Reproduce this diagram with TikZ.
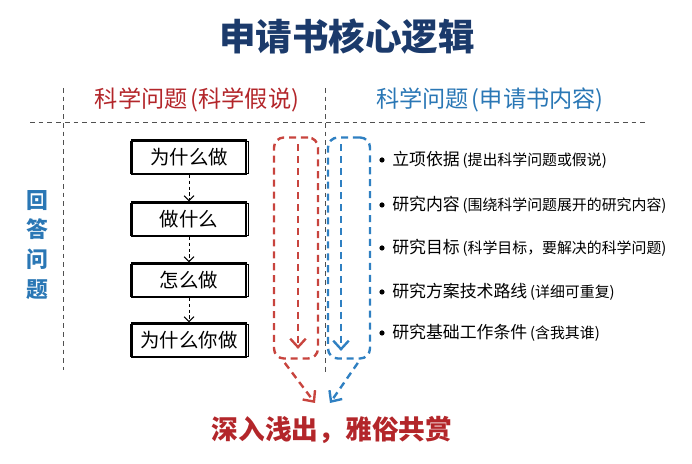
\documentclass[tikz,border=0pt]{standalone}
\usepackage{fontspec}
\setmainfont{Noto Sans CJK SC}
\usetikzlibrary{arrows.meta}
\definecolor{titleblue}{HTML}{1B3A6B}
\definecolor{hypred}{HTML}{B3262A}
\definecolor{appblue}{HTML}{2A77B5}
\definecolor{arrred}{HTML}{C8443E}
\definecolor{arrblue}{HTML}{2F80C2}
\definecolor{guide}{HTML}{505050}
\begin{document}
\begin{tikzpicture}[x=0.025cm,y=-0.025cm,
	guideline/.style={guide, line width=0.7pt, dash pattern=on 3.4pt off 2.8pt},
	qbox/.style={draw, line width=1pt, minimum width=2.85cm, minimum height=0.85cm,
		font=\fontsize{13.8}{16}\selectfont},
	lane/.style={line width=1.7pt, dash pattern=on 5pt off 3.5pt, rounded corners=0.25cm,
		minimum height=5.525cm},
	flow/.style={line width=1.7pt, dash pattern=on 5pt off 3.5pt,
		-{Straight Barb[length=6pt,width=11pt,line width=1.7pt]}},
	item/.style={anchor=west, inner sep=0pt}
]
\useasboundingbox (0,0) rectangle (692,464);

\node(title) at(347,37) {\fontsize{26}{30}\selectfont\bfseries\color{titleblue}申请书核心逻辑};
\node(hyp) at(197,100) {\fontsize{16.5}{19}\selectfont\color{hypred}科学问题\hspace{2pt}(科学假说)};
\node(app) at(490,100) {\fontsize{16.5}{19}\selectfont\color{appblue}科学问题\hspace{2pt}(申请书内容)};

% guide lines
\draw[guideline] (30,122) -- (645,122);
\draw[guideline] (63,88) -- (63,370);
\draw[guideline] (325,88) -- (325,372);

\node(ask) at(37,245) [align=center, font=\fontsize{15.5}{21.3}\selectfont\bfseries, text=appblue]
	{回\\答\\问\\题};

\foreach[count=\i] \t/\y in {为什么做/157,做什么/219,怎么做/280,为什么你做/340}{
	\node[qbox](q\i) at(189,\y) {\t};
	\draw[line width=0.4pt] ([shift={(-1.5,1.5)}]q\i.north west) rectangle ([shift={(1.5,-1)}]q\i.south east);
}

\foreach \u \v in {
	q1/q2,q2/q3,q3/q4%
}{
	\draw[line width=0.7pt, dash pattern=on 2.2pt off 2pt, -{Straight Barb[length=3.5pt,width=7pt]}] (\u) -- (\v);
}

\node[lane, draw=arrred, minimum width=1.1cm](redlane) at(296,248) {};
\node[lane, draw=arrblue, minimum width=1.05cm](bluelane) at(349,248) {};

\draw[flow, arrred] ([xshift=0.05cm,yshift=-0.2cm]redlane.north) -- ([xshift=0.05cm,yshift=0.27cm]redlane.south);
\draw[flow, arrblue] ([xshift=-0.2cm,yshift=-0.2cm]bluelane.north) -- ([xshift=-0.2cm,yshift=0.22cm]bluelane.south);

\node(goal) at(332,430) {\fontsize{19}{22}\selectfont\bfseries\color{hypred}深入浅出，雅俗共赏};
\coordinate(redend) at(315,403);
\coordinate(blueend) at(330,403);

\draw[flow, arrred] ([xshift=-0.28cm,yshift=-0.08cm]redlane.south) -- (redend);
\draw[flow, arrblue] ([xshift=0.22cm,yshift=-0.08cm]bluelane.south) -- (blueend);

\foreach[count=\i] \m/\p/\y in {
	立项依据/提出科学问题或假说/160,
	研究内容/围绕科学问题展开的研究内容/205,
	研究目标/{科学目标，要解决的科学问题}/248,
	研究方案技术路线/详细可重复/292,
	研究基础工作条件/含我其谁/333%
}{
	\node[item](b\i) at(392,\y) {{\fontsize{12}{14}\selectfont\m}\hspace{2pt}{\fontsize{10.6}{12}\selectfont(\p)}};
	\fill ([xshift=-0.25cm]b\i.west) circle (0.065cm);
}

\end{tikzpicture}
\end{document}
